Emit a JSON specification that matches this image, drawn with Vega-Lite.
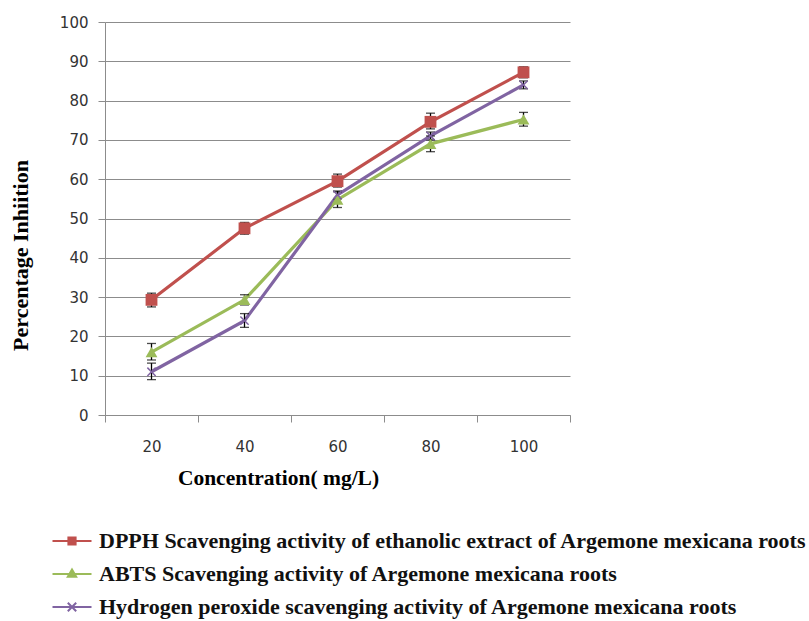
{
  "$schema": "https://vega.github.io/schema/vega-lite/v6.json",
  "width": 465,
  "height": 393,
  "autosize": "none",
  "padding": {"left": 105, "top": 22, "right": 239, "bottom": 206},
  "background": "white",
  "config": {"view": {"stroke": null}},
  "data": {"values": [
    {"conc": 20, "series": "DPPH Scavenging activity of ethanolic extract of Argemone mexicana roots", "value": 29.3, "lo": 27.5, "hi": 31},
    {"conc": 40, "series": "DPPH Scavenging activity of ethanolic extract of Argemone mexicana roots", "value": 47.5, "lo": 46, "hi": 49},
    {"conc": 60, "series": "DPPH Scavenging activity of ethanolic extract of Argemone mexicana roots", "value": 59.5, "lo": 58, "hi": 61.3},
    {"conc": 80, "series": "DPPH Scavenging activity of ethanolic extract of Argemone mexicana roots", "value": 74.6, "lo": 72.8, "hi": 76.8},
    {"conc": 100, "series": "DPPH Scavenging activity of ethanolic extract of Argemone mexicana roots", "value": 87.2, "lo": 85.8, "hi": 88.6},
    {"conc": 20, "series": "ABTS Scavenging activity of Argemone mexicana roots", "value": 16, "lo": 14, "hi": 18.2},
    {"conc": 40, "series": "ABTS Scavenging activity of Argemone mexicana roots", "value": 29.3, "lo": 28, "hi": 30.6},
    {"conc": 60, "series": "ABTS Scavenging activity of Argemone mexicana roots", "value": 54.8, "lo": 52.8, "hi": 56.8},
    {"conc": 80, "series": "ABTS Scavenging activity of Argemone mexicana roots", "value": 69, "lo": 67, "hi": 71},
    {"conc": 100, "series": "ABTS Scavenging activity of Argemone mexicana roots", "value": 75.2, "lo": 73.5, "hi": 77},
    {"conc": 20, "series": "Hydrogen peroxide scavenging activity of Argemone mexicana roots", "value": 11, "lo": 9, "hi": 13.2},
    {"conc": 40, "series": "Hydrogen peroxide scavenging activity of Argemone mexicana roots", "value": 24, "lo": 22.3, "hi": 25.8},
    {"conc": 60, "series": "Hydrogen peroxide scavenging activity of Argemone mexicana roots", "value": 56, "lo": 55, "hi": 57},
    {"conc": 80, "series": "Hydrogen peroxide scavenging activity of Argemone mexicana roots", "value": 71, "lo": 70, "hi": 72},
    {"conc": 100, "series": "Hydrogen peroxide scavenging activity of Argemone mexicana roots", "value": 84, "lo": 83, "hi": 85}
  ]},
  "encoding": {
    "x": {
      "field": "conc", "type": "quantitative",
      "scale": {"domain": [10, 110], "nice": false, "zero": false},
      "axis": {
        "values": [10, 20, 30, 40, 50, 60, 70, 80, 90, 100, 110],
        "labelExpr": "datum.value % 20 == 0 ? datum.label : ''",
        "tickOpacity": {"condition": {"test": "datum.value % 20 == 10", "value": 1}, "value": 0},
        "grid": false,
        "title": "Concentration( mg/L)",
        "titleFont": "Liberation Serif", "titleFontSize": 21.5, "titleFontWeight": "bold", "titleColor": "#000000",
        "titleX": 173, "titleY": 63, "titleBaseline": "middle", "titleAnchor": null,
        "labelFont": "DejaVu Sans", "labelFontSize": 15, "labelColor": "#333333", "labelPadding": 17,
        "domainColor": "#8c8c8c", "tickColor": "#8c8c8c", "tickSize": 7
      }
    },
    "y": {
      "field": "value", "type": "quantitative",
      "scale": {"domain": [0, 100], "nice": false},
      "axis": {
        "values": [0, 10, 20, 30, 40, 50, 60, 70, 80, 90, 100],
        "grid": true, "gridColor": "#8c8c8c", "gridWidth": 1,
        "title": "Percentage Inhiition",
        "titleFont": "Liberation Serif", "titleFontSize": 22, "titleFontWeight": "bold", "titleColor": "#000000",
        "titleX": -85, "titleY": 233, "titleAngle": -90, "titleBaseline": "middle",
        "labelFont": "DejaVu Sans", "labelFontSize": 15, "labelColor": "#333333", "labelPadding": 10,
        "domainColor": "#8c8c8c", "tickColor": "#8c8c8c", "tickSize": 7
      }
    }
  },
  "layer": [
    {
      "mark": {"type": "line", "strokeWidth": 3.2},
      "encoding": {
        "color": {
          "field": "series", "type": "nominal",
          "sort": ["DPPH Scavenging activity of ethanolic extract of Argemone mexicana roots", "ABTS Scavenging activity of Argemone mexicana roots", "Hydrogen peroxide scavenging activity of Argemone mexicana roots"],
          "scale": {
            "domain": ["DPPH Scavenging activity of ethanolic extract of Argemone mexicana roots", "ABTS Scavenging activity of Argemone mexicana roots", "Hydrogen peroxide scavenging activity of Argemone mexicana roots"],
            "range": ["#C0504D", "#9BBB59", "#8064A2"]
          },
          "legend": {
            "orient": "none", "legendX": -49, "legendY": 503, "direction": "vertical",
            "title": null, "padding": 0, "rowPadding": 6,
            "symbolSize": 900, "symbolStrokeWidth": 2,
            "symbolType": "M-1.3,0H1.3",
            "labelFont": "Liberation Serif", "labelFontSize": 22, "labelFontWeight": "bold", "labelColor": "#111111",
            "labelLimit": 0, "labelOffset": 11,
            "encode": {
              "symbols": {
                "update": {
                  "shape": {"signal": "indexof(datum.value, 'DPPH') == 0 ? 'M-1.3,0H1.3M-0.24,-0.24H0.24V0.24H-0.24Z' : indexof(datum.value, 'ABTS') == 0 ? 'M-1.3,0H1.3M0,-0.3L0.28,0.18H-0.28Z' : 'M-1.3,0H1.3M-0.28,-0.28L0.28,0.28M-0.28,0.28L0.28,-0.28'"},
                  "fill": {"scale": "color", "field": "value"},
                  "stroke": {"scale": "color", "field": "value"},
                  "strokeWidth": {"value": 2},
                  "opacity": {"value": 1}
                }
              }
            }
          }
        }
      }
    },
    {
      "mark": {"type": "errorbar", "ticks": {"size": 9, "color": "#000000", "thickness": 1.3}, "rule": {"color": "#000000", "strokeWidth": 1.3}},
      "encoding": {
        "y": {"field": "lo", "type": "quantitative"},
        "y2": {"field": "hi"},
        "detail": {"field": "series"}
      }
    },
    {
      "transform": [{"filter": "indexof(datum.series, 'DPPH') == 0"}],
      "mark": {"type": "point", "shape": "square", "filled": true, "opacity": 1, "size": 140, "color": "#C0504D"},
      "encoding": {}
    },
    {
      "transform": [{"filter": "indexof(datum.series, 'ABTS') == 0"}],
      "mark": {"type": "point", "shape": "triangle-up", "filled": true, "opacity": 1, "size": 140, "color": "#9BBB59"},
      "encoding": {}
    },
    {
      "transform": [{"filter": "indexof(datum.series, 'Hydrogen') == 0"}],
      "mark": {"type": "point", "shape": "M-0.7,-0.7L0.7,0.7M-0.7,0.7L0.7,-0.7", "filled": false, "opacity": 1, "size": 140, "strokeWidth": 1.5, "color": "#8064A2"},
      "encoding": {}
    }
  ]
}
